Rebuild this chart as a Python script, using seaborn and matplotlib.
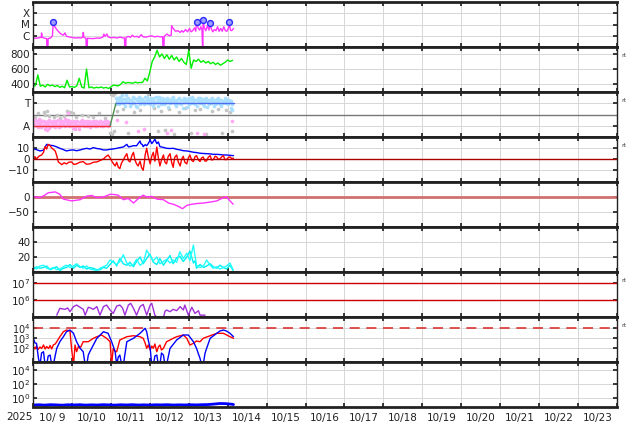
import numpy as np
import matplotlib
matplotlib.use('Agg')
import matplotlib.pyplot as plt
from matplotlib.ticker import NullLocator
import seaborn as sns

# ── time axis (days since 2025-10-09 00:00) ─────────────────────────────────
day_labels = ['10/ 9', '10/10', '10/11', '10/12', '10/13', '10/14', '10/15', '10/16',
              '10/17', '10/18', '10/19', '10/20', '10/21', '10/22', '10/23']

# ── panel 1: X-ray flux (log10 W/m2) ─────────────────────────────────────────
xr_t = [0.00,0.08,0.15,0.21,0.22,0.24,0.30,0.35,0.36,0.38,
        0.39,0.45,0.50,0.52,0.56,0.61,0.66,0.72,0.78,0.82,
        0.86,0.92,1.00,1.08,1.16,1.24,1.28,1.29,1.31,1.36,
        1.37,1.39,1.40,1.48,1.56,1.64,1.72,1.80,1.82,1.85,
        1.90,1.93,2.00,2.08,2.16,2.24,2.32,2.35,2.36,2.38,
        2.39,2.45,2.50,2.55,2.60,2.66,2.72,2.78,2.83,2.90,
        2.98,3.05,3.12,3.20,3.28,3.33,3.34,3.36,3.37,3.44,
        3.50,3.55,3.56,3.60,3.66,3.72,3.78,3.82,3.86,3.92,
        3.97,4.02,4.06,4.10,4.15,4.18,4.20,4.24,4.28,4.31,
        4.34,4.36,4.37,4.40,4.44,4.48,4.52,4.55,4.58,4.62,
        4.66,4.70,4.74,4.78,4.82,4.86,4.90,4.94,4.98,5.02,
        5.04,5.07,5.10,5.13,5.15]
xr_v = [-6.20,-6.22,-6.18,-6.15,-5.75,-6.15,-6.22,-6.25,-7.5,-7.5,
        -6.25,-6.20,-6.00,-4.75,-5.20,-5.45,-5.65,-5.85,-5.95,-5.75,
        -6.05,-6.10,-6.15,-6.20,-6.18,-6.20,-6.10,-5.70,-6.15,-6.22,
        -7.5,-7.5,-6.22,-6.25,-6.25,-6.20,-6.22,-6.10,-5.85,-6.05,
        -5.85,-6.10,-6.18,-6.15,-6.20,-6.12,-6.20,-6.20,-7.5,-7.5,
        -6.15,-6.05,-6.15,-5.95,-6.10,-6.05,-6.15,-5.90,-6.10,-6.12,
        -6.05,-6.00,-6.10,-6.05,-6.10,-6.08,-7.5,-7.5,-6.05,-5.85,
        -6.00,-5.95,-5.10,-5.35,-5.60,-5.55,-5.70,-5.55,-5.68,-5.45,
        -5.65,-5.35,-5.65,-5.55,-5.30,-5.60,-4.75,-5.30,-5.50,-5.20,
        -5.45,-7.5,-4.60,-5.30,-5.55,-5.10,-5.50,-4.90,-5.40,-5.65,
        -5.45,-5.55,-5.20,-5.60,-5.35,-5.60,-5.20,-5.55,-5.60,-5.30,
        -4.75,-5.50,-5.55,-5.45,-5.35]
flare_t = [0.52, 4.20, 4.37, 4.55, 5.04]
flare_v = [-4.75, -4.75, -4.60, -4.90, -4.75]

# ── panel 2: solar wind speed (km/s), hours ──────────────────────────────────
sw_h = [0,1.5,3,4.5,6,7.5,9,10.5,12,13.5,15,16.5,18,19.5,21,22.5,24,25.5,27,28.5,
        30,31.5,33,34.5,36,37.5,39,40.5,42,43.5,45,46.5,48,49.5,51,52.5,54,55.5,57,58.5,
        60,61.5,63,64.5,66,67.5,69,70.5,72,73.5,75,76.5,78,79.5,81,82.5,84,85.5,87,88.5,
        90,91.5,93,94.5,96,97.5,99,100.5,102,103.5,105,106.5,108,109.5,111,112.5,114,115.5,
        117,118.5,120,121.5,123]
sw_v = [360,380,520,370,385,360,395,375,385,365,
        380,355,370,350,450,360,365,355,375,476,
        360,345,600,350,360,345,355,350,360,345,
        355,340,360,385,380,375,395,430,410,420,
        415,410,425,415,420,420,476,440,560,700,
        760,850,760,800,740,790,730,780,720,760,
        700,740,690,660,850,610,720,700,730,690,
        710,680,700,670,690,660,680,650,670,690,
        720,700,715]

# ── panel 3: sector polarity (T / A) ─────────────────────────────────────────
pol_t = [0.00, 1.98, 2.13, 5.15]
pol_v = [-1, -1, 1, 1]
pk_t = [0.00,0.03,0.06,0.09,0.12,0.15,0.18,0.21,0.24,0.27,0.30,0.33,0.36,0.39,0.42,0.45,
        0.48,0.51,0.54,0.57,0.60,0.63,0.66,0.69,0.72,0.75,0.78,0.81,0.84,0.87,0.90,0.93,
        0.96,0.99,1.02,1.05,1.08,1.11,1.14,1.17,1.20,1.23,1.26,1.29,1.32,1.35,1.38,1.41,
        1.44,1.47,1.50,1.53,1.56,1.59,1.62,1.65,1.68,1.71,1.74,1.77,1.80,1.83,1.86,1.89,
        1.92,1.95]
pk_v1 = [-0.6,-0.9,-0.5,-1.0,-0.7,-0.4,-0.8,-1.1,-0.6,-0.9,
         -1.3,-0.7,-1.4,-0.8,-0.5,-1.0,-0.7,-0.9,-0.6,-1.1,
         -0.8,-0.5,-0.9,-0.7,-1.0,-0.6,-0.8,-0.4,-0.9,-0.7,
         0.1,-0.8,-0.6,-1.0,-0.7,-0.9,-1.3,-0.8,-0.6,-1.0,
         -0.7,-0.9,-0.5,-0.8,-1.0,-0.7,-0.6,-0.9,-0.8,-1.1,
         -0.7,-0.9,-0.6,-1.0,-0.8,-0.7,-0.9,-0.6,-1.0,-0.8,
         -0.7,-0.9,-0.6,-0.8,-1.0,-0.7]
pk_v2 = [-0.9,-0.5,-0.8,-0.6,-1.1,-0.8,-0.5,-0.7,-1.0,-0.6,
         -0.8,-1.0,-0.9,-0.6,-1.2,-0.7,-0.9,-0.6,-1.0,-0.8,
         -0.6,-0.9,-1.1,-0.8,-0.6,-0.9,-0.7,-1.0,-0.6,-0.8,
         -0.5,-1.0,-0.9,-0.7,-1.2,-0.6,-0.8,-1.0,-0.9,-1.3,
         -0.8,-0.6,-0.9,-0.7,-0.6,-0.9,-1.0,-0.7,-0.6,-0.8,
         -1.0,-0.6,-0.8,-0.9,-0.6,-1.0,-0.8,-0.6,-0.7,-0.9,
         -1.0,-0.7,-0.9,-0.6,-0.8,-0.9]
pk2_t = [2.15, 2.40, 2.70, 2.85, 3.45, 3.55, 4.20, 4.40, 5.10]
pk2_v = [-0.5, -0.7, -1.5, -1.3, -1.6, -1.4, -1.6, -1.7, -0.6]
lb_t = [2.12,2.16,2.20,2.24,2.28,2.32,2.36,2.40,2.44,2.48,2.52,2.56,2.60,2.64,2.68,2.72,
        2.76,2.80,2.84,2.88,2.92,2.96,3.00,3.04,3.08,3.12,3.16,3.20,3.24,3.28,3.32,3.36,
        3.40,3.44,3.48,3.52,3.56,3.60,3.64,3.68,3.72,3.76,3.80,3.84,3.88,3.92,3.96,4.00,
        4.04,4.08,4.12,4.16,4.20,4.24,4.28,4.32,4.36,4.40,4.44,4.48,4.52,4.56,4.60,4.64,
        4.68,4.72,4.76,4.80,4.84,4.88,4.92,4.96,5.00,5.04,5.08,5.12]
lb_v1 = [1.5,1.2,0.9,1.6,1.3,1.0,1.4,1.7,1.1,0.8, 1.3,1.6,1.0,1.4,0.7,1.2,1.5,1.1,0.9,1.6,
         1.3,1.0,1.4,1.2,0.8,1.5,1.1,1.3,1.6,0.9, 1.2,1.4,1.0,1.5,0.7,1.3,1.1,1.6,0.9,1.2,
         1.4,1.0,1.3,0.6,1.5,1.1,1.2,0.9,1.4,1.6, 1.0,1.3,0.8,1.2,1.5,1.1,0.9,1.4,1.2,0.7,
         1.3,1.0,1.5,1.2,0.9,1.4,1.1,1.3,0.8,1.2, 1.5,1.0,1.3,1.1,0.6,0.9]
lb_v2 = [0.9,1.5,1.3,1.0,1.7,1.4,0.8,1.2,1.5,1.3, 0.9,1.1,1.5,0.8,1.3,1.6,0.9,1.4,1.2,1.0,
         1.6,1.3,0.9,1.5,1.2,1.0,1.6,0.8,1.2,1.4, 1.5,0.9,1.3,1.1,1.4,1.0,1.5,1.2,1.3,0.8,
         1.0,1.5,0.9,1.3,1.1,1.4,0.7,1.5,1.0,1.2, 1.4,0.9,1.3,1.5,1.0,1.4,1.2,0.8,1.5,1.1,
         0.9,1.4,1.1,0.8,1.3,1.0,1.5,0.9,1.3,1.0, 1.2,1.4,0.9,1.3,1.2,0.4]
gr_t = [0.05,0.12,0.27,0.31,0.35,0.40,0.55,0.62,0.70,0.80, 0.88,0.95,1.02,1.10,1.25,1.40,1.55,1.70,1.85,1.97,
        2.00,2.03,2.05,2.07,2.10,2.15,2.30,2.45,2.60,2.75, 2.95,3.10,3.20,3.30,3.40,3.50,3.62,3.75,3.90,4.05,
        4.15,4.30,4.45,4.60,4.75,4.85,4.95,5.05,5.10]
gr_v = [-0.2,0.1,0.2,0.0,0.3,-0.1,-0.2,0.0,-0.3,-0.1, 0.3,0.2,0.1,-0.2,0.0,-0.1,-0.2,0.1,-0.3,-1.6,
        1.8,-1.7,1.7,-1.5,1.9,0.3,0.5,-1.6,0.2,0.4, 1.8,0.6,-1.5,0.3,-1.4,0.5,-1.7,0.2,0.6,-1.6,
        0.4,0.5,-1.7,0.3,0.5,-1.6,0.4,0.2,-1.5]

# ── panel 4: IMF Bt / Bz (nT) ────────────────────────────────────────────────
bz_t = [0.01,0.05,0.09,0.15,0.22,0.27,0.31,0.35,0.39,0.44, 0.48,0.53,0.57,0.61,0.65,0.70,0.74,0.80,0.86,0.92,
        0.99,1.05,1.12,1.20,1.29,1.37,1.46,1.55,1.64,1.72, 1.81,1.87,1.93,1.98,2.02,2.06,2.11,2.15,2.19,2.23,
        2.27,2.32,2.36,2.41,2.45,2.49,2.54,2.58,2.62,2.66, 2.70,2.75,2.79,2.83,2.86,2.88,2.92,2.96,3.01,3.05,
        3.09,3.13,3.18,3.22,3.26,3.30,3.35,3.39,3.43,3.47, 3.52,3.56,3.60,3.64,3.69,3.73,3.78,3.82,3.86,3.90,
        3.95,3.99,4.03,4.08,4.12,4.16,4.20,4.25,4.29,4.33, 4.37,4.42,4.46,4.50,4.55,4.59,4.63,4.68,4.72,4.76,
        4.80,4.85,4.89,4.93,4.97,5.02,5.06,5.10,5.15]
bz_v = [1.2,2.0,0.0,2.5,3.6,6.0,11.2,9.0,13.3,12.0, 10.0,8.5,7.3,3.0,-2.7,-4.0,-5.2,-3.5,-4.5,-3.0,
        -2.7,-5.0,-4.5,-3.0,-2.4,-4.8,-4.5,-3.0,-2.7,-1.5, 0.0,2.0,3.6,1.0,-1.8,-4.0,-6.4,-3.0,-7.5,-8.8,
        -4.0,-1.0,2.0,4.8,-1.5,-2.7,3.0,6.0,-1.0,-4.5, -6.4,-2.0,-8.0,-10.3,-3.0,3.6,9.7,2.0,-4.5,2.5,
        6.0,-2.0,10.9,1.0,-6.4,-1.0,3.6,-3.0,-4.5,2.0, 4.8,-3.0,-7.6,1.5,3.6,-2.5,-6.4,0.0,2.4,-3.0,
        -4.5,1.0,3.6,-1.5,-2.4,2.0,3.0,-1.0,-2.4,1.0, 1.8,-2.0,-1.8,1.5,3.0,-1.0,-0.6,2.5,1.8,-0.5,
        0.0,2.0,3.0,-0.6,-0.6,1.5,1.8,0.5,0.6]
bt_t = [0.01,0.09,0.18,0.27,0.35,0.44,0.52,0.61,0.69,0.78, 0.86,0.95,1.04,1.12,1.21,1.29,1.38,1.46,1.55,1.64,
        1.72,1.81,1.89,1.98,2.06,2.15,2.23,2.32,2.41,2.45, 2.49,2.58,2.66,2.75,2.77,2.81,2.83,2.88,2.92,2.96,
        3.01,3.05,3.09,3.13,3.18,3.22,3.26,3.35,3.43,3.52, 3.60,3.69,3.78,3.86,3.95,4.03,4.12,4.20,4.29,4.37,
        4.46,4.55,4.63,4.72,4.80,4.89,4.97,5.06,5.15]
bt_v = [9.1,8.5,7.3,8.0,13.3,12.5,12.1,11.0,9.7,8.5, 7.3,8.0,8.2,7.5,8.2,9.0,9.7,9.0,10.3,9.5,
        9.1,8.2,8.2,8.8,9.1,9.7,10.3,10.9,13.3,11.0, 11.2,12.1,12.0,16.4,14.0,13.0,11.2,13.0,12.1,14.0,
        17.3,14.0,15.8,18.0,14.0,15.5,11.2,10.5,9.7,9.5, 9.7,8.8,8.2,7.5,7.3,6.8,6.1,5.8,5.2,5.0,
        4.8,4.6,4.2,4.2,4.0,3.6,3.6,3.3,3.0]

# ── panel 5: Dst (nT) ────────────────────────────────────────────────────────
dst_t = [0.01,0.18,0.30,0.39,0.57,0.69,0.78,0.99,1.21,1.38, 1.51,1.64,1.81,1.98,2.10,2.19,2.32,2.45,2.58,2.71,
         2.83,2.92,3.05,3.18,3.35,3.48,3.60,3.73,3.84,3.95, 4.08,4.20,4.38,4.55,4.72,4.89,4.97,5.06,5.14]
dst_v = [1,-2,6,14,17,9,-7,-13,-9,3, 5,-2,0,9,8,6,-9,-5,-20,-5,
         6,0,2,-7,-9,-20,-24,-31,-39,-28, -24,-22,-20,-17,-13,-2,0,-13,-24]

# ── panel 6: cyan index ──────────────────────────────────────────────────────
cy_t = [0.01,0.09,0.18,0.27,0.35,0.44,0.52,0.61,0.69,0.78, 0.86,0.95,1.04,1.12,1.21,1.29,1.38,1.46,1.55,1.64,
        1.72,1.81,1.89,1.98,2.06,2.15,2.23,2.32,2.41,2.49, 2.58,2.66,2.75,2.83,2.92,3.00,3.09,3.18,3.26,3.35,
        3.43,3.52,3.60,3.69,3.77,3.86,3.95,4.03,4.12,4.16, 4.20,4.29,4.38,4.46,4.55,4.63,4.72,4.80,4.89,4.97,
        5.06,5.14]
cy_v1 = [6,4,8,9,5,4,6,3,4,7, 9,6,8,11,7,5,8,4,3,2, 5,7,9,16,13,10,14,23,12,8,
         10,17,9,12,29,22,15,20,11,14, 17,12,16,13,27,18,25,15,36,22, 9,6,8,16,9,5,7,4,6,8, 12,3]
cy_v2 = [4,7,5,6,8,3,5,7,2,5, 6,10,5,9,6,8,4,6,5,3, 3,6,5,10,15,8,18,11,9,13,
         7,14,20,11,18,24,13,10,18,9, 15,22,11,19,21,14,20,28,12,15, 5,10,6,8,11,7,5,9,6,4, 9,2]

# ── panel 7: purple flux (log10) ─────────────────────────────────────────────
pu_t = [0.61,0.69,0.75,0.82,0.89,0.95,1.04,1.12,1.21,1.29, 1.34,1.42,1.48,1.55,1.64,1.72,1.81,1.89,1.98,2.06,
        2.15,2.23,2.30,2.36,2.45,2.51,2.58,2.66,2.75,2.83, 2.92,3.01,3.05,3.13,3.18,3.35,3.39,3.43,3.52,3.60,
        3.69,3.78,3.86,3.90,3.99,4.08,4.16,4.25,4.29,4.42]
pu_log = [5.13,5.53,5.50,5.47,5.55,5.33,5.63,5.72,5.59,5.47, 5.13,5.59,5.55,5.47,5.63,5.13,5.63,5.72,5.43,5.23,
          5.66,5.72,5.55,5.13,5.72,5.82,5.53,5.13,5.63,5.76, 5.13,5.72,5.82,5.13,5.00,5.00,5.35,5.43,5.33,5.47,
          5.39,5.63,5.43,5.72,5.13,5.59,5.23,5.39,5.13,5.13]

# ── panel 8: electron flux (log10) ───────────────────────────────────────────
er_t = [0.01,0.05,0.09,0.13,0.18,0.22,0.27,0.31,0.35,0.40, 0.44,0.48,0.52,0.57,0.61,0.69,0.78,0.86,0.95,0.99,
        1.04,1.08,1.12,1.17,1.21,1.29,1.42,1.55,1.64,1.76, 1.89,1.98,2.02,2.06,2.10,2.15,2.23,2.41,2.58,2.75,
        2.83,2.88,2.92,2.96,3.01,3.05,3.09,3.13,3.18,3.22, 3.26,3.30,3.35,3.43,3.52,3.60,3.69,3.86,3.95,4.03,
        4.12,4.20,4.29,4.37,4.55,4.72,4.89,5.06,5.15]
er_log = [2.13,1.9,2.2,1.85,2.1,1.95,2.3,1.9,2.15,1.95, 2.25,1.9,2.3,2.4,2.63,3.13,3.63,3.8,3.7,1.97,
          0.3,2.3,1.63,2.2,1.97,2.63,2.63,2.97,3.13,3.3, 2.97,2.63,0.3,1.97,1.7,1.63,2.8,3.13,3.23,3.13,
          2.97,2.5,1.97,2.3,1.8,2.2,1.97,2.4,1.63,2.1, 2.3,1.8,1.97,2.63,2.8,2.97,3.13,3.3,2.97,2.3,
          2.47,2.7,2.63,2.97,3.23,3.47,3.47,3.13,2.97]
eb_t = [0.01,0.05,0.09,0.14,0.18,0.22,0.27,0.31,0.35,0.39, 0.44,0.48,0.52,0.61,0.69,0.78,0.86,0.95,1.04,1.12,
        1.21,1.29,1.34,1.38,1.42,1.46,1.55,1.64,1.81,1.93, 2.02,2.11,2.15,2.19,2.23,2.28,2.32,2.41,2.58,2.75,
        2.88,2.92,2.96,3.01,3.05,3.09,3.13,3.18,3.22,3.26, 3.30,3.35,3.39,3.43,3.52,3.69,3.86,3.99,4.12,4.20,
        4.25,4.29,4.33,4.37,4.42,4.46,4.55,4.72,4.80,4.89, 4.97,5.06,5.15]
eb_log = [2.97,2.5,2.47,0.97,0.3,1.5,1.63,0.3,0.3,1.2, 1.3,0.3,0.3,1.97,2.63,3.13,3.63,3.8,3.47,2.63,
          1.97,1.63,0.3,0.3,1.3,1.63,2.3,2.97,3.63,3.47, 2.63,1.63,0.3,1.1,1.3,0.3,0.3,2.63,2.97,3.47,
          3.97,3.63,2.8,1.97,0.3,0.3,1.2,1.3,0.3,0.3, 1.5,1.3,0.3,0.3,1.97,2.8,3.3,3.3,2.63,1.97,
          1.4,0.97,0.3,0.3,1.5,1.97,2.97,3.47,3.7,3.8, 3.7,3.47,3.13]

# ── panel 9: proton flux (log10) ─────────────────────────────────────────────
pr_t = [0.00,0.15,0.30,0.45,0.60,0.75,0.90,1.05,1.20,1.35,1.50,1.65,1.80,1.95,2.10,2.25,2.40,2.55,
        2.70,2.85,3.00,3.15,3.30,3.45,3.60,3.75,3.90,4.05,4.20,4.35,4.50,4.65,4.80,4.95,5.10,5.15]
pr_log = [-1.02,-0.98,-1.03,-0.97,-1.0,-1.04,-0.98,-1.01,-0.97,-1.03,-0.99,-1.02,-0.97,-1.0,-1.03,-0.98,
          -1.01,-0.97,-1.02,-0.99,-1.03,-0.98,-1.0,-0.97,-1.02,-0.99,-1.01,-0.98,-1.0,-0.97,-0.95,-0.88,
          -0.8,-0.82,-0.9,-0.95]

# ── style ────────────────────────────────────────────────────────────────────
sns.set_theme(style='white')
plt.rcParams['font.family'] = ['DejaVu Sans']
INK = '#222222'
GRID = '#d6d6d6'

fig, axes = plt.subplots(9, 1, figsize=(6.34, 4.24), dpi=100, sharex=True,
                         gridspec_kw={'hspace': 0})
fig.subplots_adjust(left=33/634, right=617/634, top=1-2/424, bottom=1-407/424)


def line(ax, x, y, color, lw=1.0, alpha=1.0):
    sns.lineplot(x=x, y=y, ax=ax, color=color, lw=lw, alpha=alpha,
                 estimator=None, sort=False, legend=False)


def dots(ax, x, y, color, s=7):
    sns.scatterplot(x=x, y=y, ax=ax, color=color, s=s, linewidth=0, legend=False)


def style(ax):
    ax.set_facecolor('white')
    ax.set_axisbelow(True)
    ax.grid(True, which='major', color=GRID, lw=0.7)
    ax.tick_params(which='major', direction='in', length=3, top=True, right=True,
                   bottom=True, left=True, labelsize=7.5, colors=INK, pad=2)
    for s in ['top', 'bottom']:
        ax.spines[s].set_linewidth(2)
        ax.spines[s].set_color(INK)
    for s in ['left', 'right']:
        ax.spines[s].set_linewidth(1)
        ax.spines[s].set_color(INK)
    ax.set_xlabel('')
    ax.set_ylabel('')


def rt(ax):
    ax.text(1.008, 0.82, 'rt', transform=ax.transAxes, fontsize=4.5,
            color='#444444', va='center', ha='left')


ax = axes[0]
line(ax, xr_t, xr_v, '#ff33ff')
ax.scatter(flare_t, flare_v, s=18, facecolor='#9fa0ff', edgecolor='#2a2aff', lw=1, zorder=5)
ax.set_ylim(-7, -3)
ax.set_yticks([-6, -5, -4])
ax.set_yticklabels(['C', 'M', 'X'])

ax = axes[1]
line(ax, [h / 24 for h in sw_h], sw_v, '#00ee00')
ax.set_ylim(293, 893)
ax.set_yticks([400, 600, 800])
rt(ax)

ax = axes[2]
ax.axhline(0, color='#777777', lw=1, zorder=1)
dots(ax, gr_t, gr_v, '#c4c4c4')
dots(ax, pk_t, pk_v1, '#ffaaf2')
dots(ax, pk_t, pk_v2, '#ffaaf2')
dots(ax, pk2_t, pk2_v, '#ffaaf2')
dots(ax, lb_t, lb_v1, '#aadfff')
dots(ax, lb_t, lb_v2, '#aadfff')
line(ax, pol_t[0:2], pol_v[0:2], '#ee3333')
line(ax, pol_t[1:3], pol_v[1:3], '#4f8f4f')
line(ax, pol_t[2:4], pol_v[2:4], '#4d6cf0')
ax.set_ylim(-2, 2)
ax.set_yticks([1, -1])
ax.set_yticklabels(['T', 'A'])
rt(ax)

ax = axes[3]
line(ax, bt_t, bt_v, '#0000ff')
line(ax, bz_t, bz_v, '#ff0000')
ax.axhline(0, color='#aa0000', lw=1, zorder=3)
ax.set_ylim(-21, 20)
ax.set_yticks([10, 0, -10])
ax.set_yticklabels(['10', '0', '\u221210'])
rt(ax)

ax = axes[4]
ax.axhline(0, color='#d07070', lw=2, zorder=1)
line(ax, dst_t, dst_v, '#ff33ff')
ax.set_ylim(-100, 50)
ax.set_yticks([0, -50])
ax.set_yticklabels(['0', '\u221250'])

ax = axes[5]
line(ax, cy_t, cy_v2, '#00f0f0')
line(ax, cy_t, cy_v1, '#22ffff')
ax.set_ylim(0, 60)
ax.set_yticks([20, 40])

ax = axes[6]
ax.set_yscale('log')
ax.axhline(1e7, color='#cc0000', lw=1)
ax.axhline(1e6, color='#cc0000', lw=1)
line(ax, pu_t, [10 ** v for v in pu_log], '#a030d8')
ax.set_ylim(1.05e5, 4.5e7)
ax.set_yticks([1e6, 1e7])
ax.set_yticklabels(['$10^6$', '$10^7$'])
ax.yaxis.set_minor_locator(NullLocator())
rt(ax)

ax = axes[7]
ax.set_yscale('log')
ax.axhline(1e4, color='#dd3333', lw=1.2, dashes=(6, 4))
line(ax, er_t, [10 ** v for v in er_log], '#ff0000')
line(ax, eb_t, [10 ** v for v in eb_log], '#0000ff')
ax.set_ylim(4, 1.26e5)
ax.set_yticks([1e2, 1e3, 1e4])
ax.set_yticklabels(['$10^2$', '$10^3$', '$10^4$'])
ax.yaxis.set_minor_locator(NullLocator())
rt(ax)

ax = axes[8]
ax.set_yscale('log')
line(ax, pr_t, [10 ** v for v in pr_log], '#0000ff', lw=2)
ax.set_ylim(0.05, 1.4e5)
ax.set_yticks([1e0, 1e2, 1e4])
ax.set_yticklabels(['$10^0$', '$10^2$', '$10^4$'])
ax.yaxis.set_minor_locator(NullLocator())

for ax in axes:
    style(ax)

# the reference stacks these decade labels 10 px apart; keep a touch smaller
axes[7].tick_params(axis='y', labelsize=7)

ax = axes[-1]
ax.set_xlim(0, 15)
ax.set_xticks(range(0, 16))
ax.set_xticks([d + 0.5 for d in range(15)], minor=True)
ax.set_xticklabels(day_labels, minor=True)
ax.tick_params(axis='x', which='major', labelbottom=False)
ax.tick_params(axis='x', which='minor', length=0, labelsize=7.5, colors=INK, pad=4)
fig.text(19/634, 1-417/424, '2025', ha='center', va='center', fontsize=7.5, color=INK)

fig.savefig('out.png', dpi=100)
